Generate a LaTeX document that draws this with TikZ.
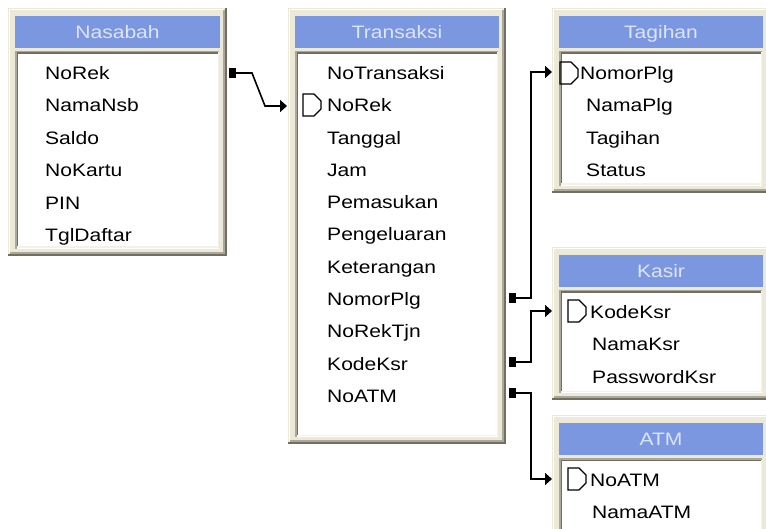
\documentclass[tikz,border=0pt]{standalone}
\usepackage{fontspec}
\setmainfont{Liberation Sans}[FakeStretch=1.17]
\usetikzlibrary{arrows.meta}
\definecolor{beige}{HTML}{ECE9D8}
\definecolor{shadowA}{HTML}{ACA899}
\definecolor{shadowB}{HTML}{716F64}
\definecolor{hilite}{HTML}{F4F2E8}
\definecolor{titleblue}{HTML}{7B97E0}
\definecolor{titletext}{HTML}{DCE5F8}

\newcommand{\tbl}[6]{%
  \fill[beige] (#2,#3) rectangle (#4,#5);
  \draw[white,line width=1pt] (#2+1.5,#5-3) -- (#2+1.5,#3+1.5) -- (#4-3,#3+1.5);
  \draw[shadowA,line width=2pt] (#2+2,#5-3) -- (#4-3,#5-3) -- (#4-3,#3+2);
  \draw[shadowB,line width=2pt] (#2,#5-1) -- (#4-1,#5-1) -- (#4-1,#3);
  \fill[titleblue] (#2+7,#3+8) rectangle (#4-7,#3+40);
  \node[ttl] (#1) at ({(#2+#4)/2},#3+30.5) {#6};
  \fill[white] (#2+7,#3+43) rectangle (#4-8,#5-7);
  \draw[shadowA,line width=1.5pt] (#2+7.75,#5-7) -- (#2+7.75,#3+43.75) -- (#4-8,#3+43.75);
  \draw[shadowB,line width=1.5pt] (#2+9.25,#5-8.5) -- (#2+9.25,#3+45.25) -- (#4-9.5,#3+45.25);
  \draw[hilite,line width=1.5pt] (#2+9,#5-8.75) -- (#4-8.75,#5-8.75) -- (#4-8.75,#3+45);
}
\newcommand{\keyicon}[2]{%
  \draw[black,line width=1.2pt,line join=miter] (#1,#2-11) -- (#1+11,#2-11) -- (#1+18,#2-4) -- (#1+18,#2+4) -- (#1+11,#2+11) -- (#1,#2+11) -- cycle;
}

\tikzset{
  fld/.style={anchor=base west, inner sep=0pt, font=\fontsize{18}{20}\selectfont, text=black},
  ttl/.style={anchor=base, inner sep=0pt, font=\fontsize{18}{20}\selectfont, text=titletext},
  sqmark/.style={fill=black, draw=none, minimum width=7pt, minimum height=10pt, inner sep=0pt},
  conn/.style={line width=1.6pt, black, line join=miter},
  arr/.style={-{Triangle[length=7pt,width=12pt]}}
}

\begin{document}
\begin{tikzpicture}[x=1pt,y=-1pt]
\useasboundingbox (0,0) rectangle (766,529);
\clip (0,0) rectangle (766,529);
\fill[white] (0,0) rectangle (766,529);

% tables
\tbl{nasT}{8}{8}{227}{256}{Nasabah}
\tbl{trxT}{288}{8}{506}{444}{Transaksi}
\tbl{tagT}{552}{8}{770}{193}{Tagihan}
\tbl{ksrT}{552}{247}{770}{400}{Kasir}
\tbl{atmT}{552}{415}{770}{570}{ATM}

% Nasabah fields
\foreach \t [count=\i] in {NoRek,NamaNsb,Saldo,NoKartu,PIN,TglDaftar}
  \node[fld] (nas\i) at (45,{73+32.4*(\i-1)+6.5}) {\t};

% Transaksi fields
\foreach \t [count=\i] in {NoTransaksi,NoRek,Tanggal,Jam,Pemasukan,Pengeluaran,Keterangan,NomorPlg,NoRekTjn,KodeKsr,NoATM}
  \node[fld] (trx\i) at (327,{73+32.3*(\i-1)+6.5}) {\t};
\keyicon{303}{105}

% Tagihan fields
\node[fld] (tag1) at (580,79.5) {NomorPlg};
\node[fld] (tag2) at (586,{105.4+6.5}) {NamaPlg};
\node[fld] (tag3) at (586,{137.8+6.5}) {Tagihan};
\node[fld] (tag4) at (586,{170.2+6.5}) {Status};
\keyicon{560}{73}

% Kasir fields
\node[fld] (ksr1) at (590,318.5) {KodeKsr};
\node[fld] (ksr2) at (592,351) {NamaKsr};
\node[fld] (ksr3) at (592,383.5) {PasswordKsr};
\keyicon{568}{311}

% ATM fields
\node[fld] (atm1) at (590,486.5) {NoATM};
\node[fld] (atm2) at (592,518.5) {NamaATM};
\keyicon{568}{479}

% connector markers and ends
\node[sqmark] (m1) at (232.5,73) {};
\node[sqmark] (m2) at (512.5,298) {};
\node[sqmark] (m3) at (512.5,362) {};
\node[sqmark] (m4) at (512.5,393) {};
\coordinate (a1) at (287,106);
\coordinate (a2) at (552,72);
\coordinate (a3) at (552,311);
\coordinate (a4) at (552,479);

\draw[conn,arr] (m1.east) -- (252,73) -- (265,106) -- (a1);
\draw[conn,arr] (m2.east) -- (531,298) -- (531,72) -- (a2);
\draw[conn,arr] (m3.east) -- (531,362) -- (531,311) -- (a3);
\draw[conn,arr] (m4.east) -- (531,393) -- (531,479) -- (a4);
\end{tikzpicture}
\end{document}
